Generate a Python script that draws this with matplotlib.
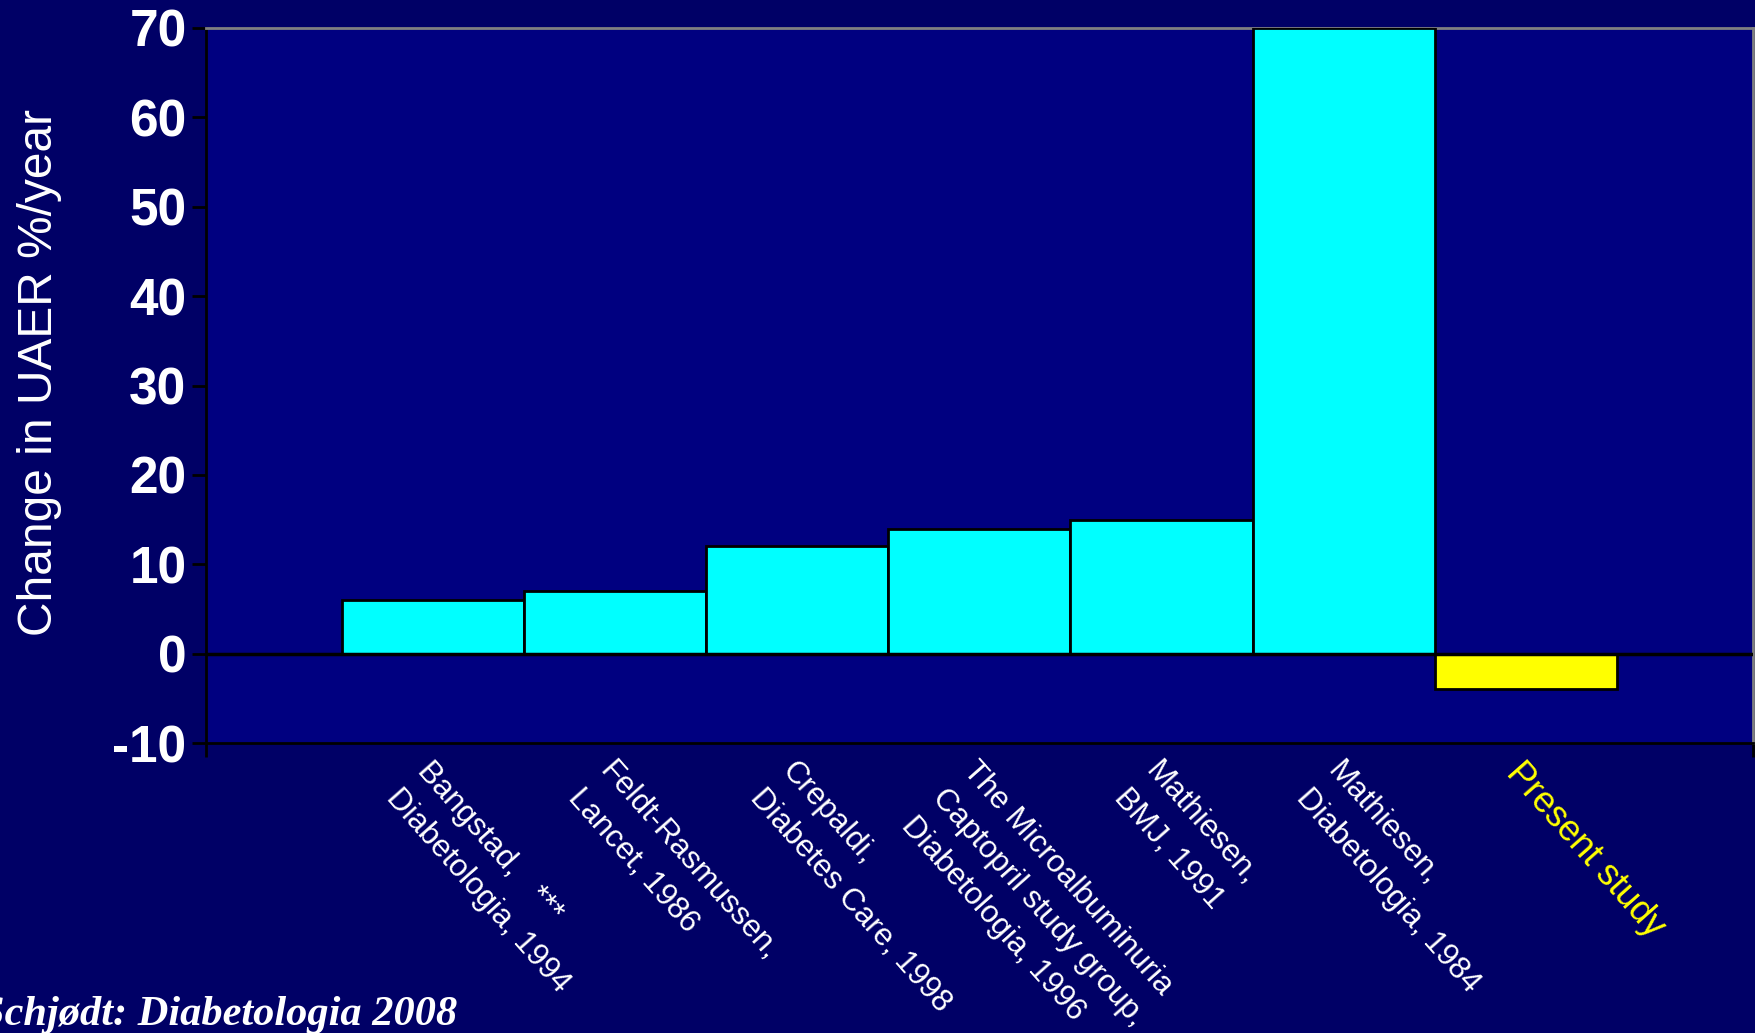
import matplotlib.pyplot as plt
from matplotlib.transforms import blended_transform_factory

# 1. Data: yearly change in UAER reported by each study
studies = [
    "Bangstad,   ***\nDiabetologia, 1994",
    "Feldt-Rasmussen,\nLancet, 1986",
    "Crepaldi,\nDiabetes Care, 1998",
    "The Microalbuminuria\nCaptopril study group,\nDiabetologia, 1996",
    "Mathiesen,\nBMJ, 1991",
    "Mathiesen,\nDiabetologia, 1984",
    "Present study",
]
change_pct = [6, 7, 12, 14, 15, 70, -4]
bar_colors = ["#00FFFF"] * 6 + ["#FFFF00"]
label_colors = ["white"] * 6 + ["#FFFF00"]
label_sizes = [22.5] * 6 + [26]

y_ticks = list(range(-10, 80, 10))

plt.rcParams["font.family"] = ["Liberation Sans", "DejaVu Sans"]

# 2. Canvas
fig = plt.figure(figsize=(17.56, 10.33), dpi=100, facecolor="#000066")
ax = fig.add_axes([0.1173, 0.2807, 0.881, 0.6922])
ax.set_facecolor("#000080")

x = list(range(len(change_pct)))
ax.bar(x, change_pct, width=1.0, color=bar_colors, edgecolor="black",
       linewidth=2, zorder=3)
ax.axhline(0, color="black", linewidth=2.5, zorder=4)

ax.set_xlim(-1.25, len(change_pct) - 1 + 1.25)
ax.set_ylim(-10, 70)
ax.set_yticks(y_ticks)
ax.set_yticklabels([str(t) for t in y_ticks], fontsize=37,
                   fontweight="bold", color="white")
ax.tick_params(axis="y", direction="out", length=10, width=2,
               color="black", pad=4)

# category axis only has tick marks at its two ends
ax.set_xticks(ax.get_xlim())
ax.set_xticklabels([])
ax.tick_params(axis="x", direction="out", length=10, width=2, color="black")

for side in ["left", "bottom"]:
    ax.spines[side].set_color("black")
    ax.spines[side].set_linewidth(2)
for side in ["top", "right"]:
    ax.spines[side].set_color("#808080")
    ax.spines[side].set_linewidth(2)

# 3. Slanted study labels under each bar
trans = blended_transform_factory(ax.transData, ax.transAxes)
for xi, name, col, fs in zip(x, studies, label_colors, label_sizes):
    ax.text(xi, -0.018, name, transform=trans, rotation=-48.5,
            rotation_mode="anchor", ha="left", va="top",
            multialignment="left", color=col, fontsize=fs,
            linespacing=1.5)

fig.text(40 / 1756, 1 - 372 / 1033, "Change in UAER %/year", rotation=90,
         ha="center", va="center", color="white", fontsize=34.5)

fig.text(457 / 1756, 1 - 1025 / 1033, "Schjødt: Diabetologia 2008",
         ha="right", va="baseline", color="white", fontsize=30.5,
         family="Liberation Serif", style="italic", fontweight="bold")

fig.savefig("out.png", dpi=100, facecolor=fig.get_facecolor())
